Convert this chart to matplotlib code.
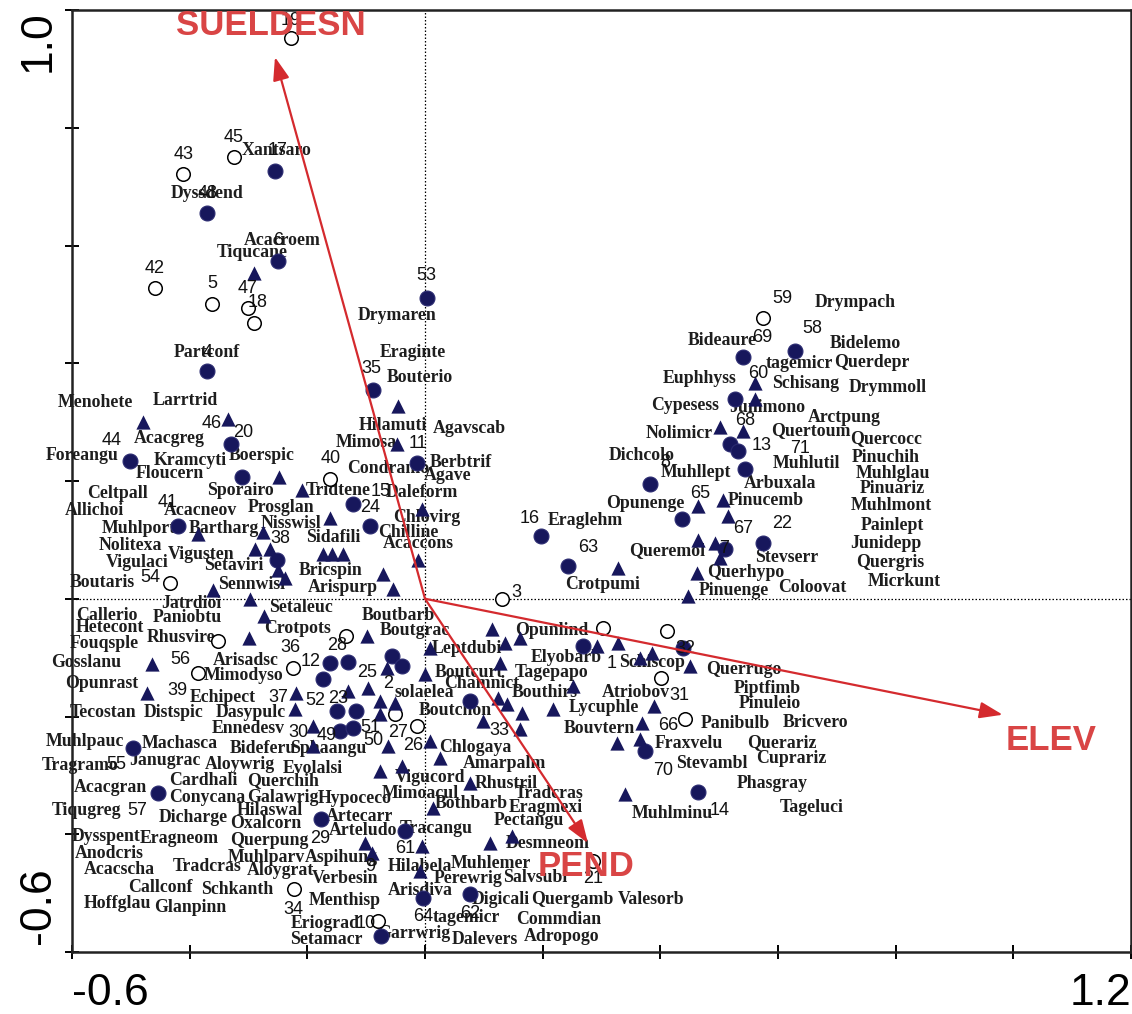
import matplotlib
matplotlib.use("Agg")
import matplotlib.pyplot as plt

# --- site scores by group ---------------------------------------------
open_x = [-0.228, -0.411, -0.325, -0.459, -0.362, -0.301, -0.291, -0.161, -0.433, -0.352,
          -0.134, -0.224, -0.386, -0.223, -0.080, 0.285, 0.131, 0.302, 0.411, 0.401,
          0.442, -0.051, -0.014, 0.574]
open_y = [0.952, 0.722, 0.751, 0.527, 0.501, 0.493, 0.469, 0.204, 0.027, -0.071,
          -0.063, -0.117, -0.126, -0.493, -0.547, -0.445, 0.000, -0.049, -0.054, -0.134,
          -0.204, -0.195, -0.216, 0.477]

filled_x = [-0.255, -0.370, -0.250, -0.370, 0.003, -0.088, -0.330, -0.501, -0.311, -0.014,
            -0.122, -0.420, -0.093, -0.251, -0.161, -0.131, -0.173, -0.150, -0.117, -0.144,
            -0.122, -0.496, -0.454, -0.177, -0.034, -0.003, 0.076, -0.056, -0.039, 0.076,
            0.268, 0.438, 0.374, 0.464, 0.197, 0.243, 0.437, 0.510, 0.574, 0.382,
            0.544, 0.518, 0.532, 0.527, 0.540, 0.629, -0.075]
filled_y = [0.727, 0.656, 0.574, 0.386, 0.511, 0.355, 0.262, 0.234, 0.206, 0.231,
            0.161, 0.124, 0.124, 0.065, -0.109, -0.107, -0.136, -0.190, -0.190, -0.224,
            -0.219, -0.253, -0.330, -0.374, -0.394, -0.508, -0.501, -0.097, -0.114, -0.173,
            -0.080, -0.083, -0.258, -0.328, 0.107, 0.056, 0.136, 0.085, 0.095, 0.195,
            0.221, 0.263, 0.251, 0.340, 0.410, 0.421, -0.573]

tri_x = [-0.291, -0.479, -0.335, -0.248, -0.209, -0.046, -0.048, -0.005, -0.386, -0.275,
         -0.161, -0.289, -0.263, -0.173, -0.158, -0.139, -0.250, -0.238, -0.360, -0.297,
         -0.274, -0.299, -0.099, -0.464, -0.472, -0.219, -0.131, -0.097, -0.221, -0.190,
         -0.190, -0.012, -0.071, -0.054, 0.114, 0.136, 0.161, 0.292, 0.328, 0.365,
         0.386, 0.450, 0.008, 0.127, -0.065, 0.000, 0.251, -0.076, -0.051, -0.076,
         0.099, 0.124, 0.139, 0.165, 0.218, 0.389, 0.161, 0.369, 0.008, 0.025,
         -0.063, 0.326, 0.365, -0.076, -0.039, 0.076, 0.014, 0.340, -0.005, 0.110,
         0.148, -0.008, -0.102, -0.090, 0.328, 0.447, 0.462, 0.464, 0.493, 0.501,
         0.515, 0.464, 0.506, 0.501, 0.540, 0.561, 0.561]
tri_y = [0.554, 0.301, 0.306, 0.206, 0.184, 0.328, 0.263, 0.153, 0.110, 0.114,
         0.138, 0.085, 0.085, 0.076, 0.076, 0.076, 0.048, 0.036, 0.015, 0.000,
         -0.029, -0.066, -0.063, -0.110, -0.160, -0.160, -0.156, -0.151, -0.187, -0.216,
         -0.250, 0.065, 0.042, 0.017, -0.051, -0.075, -0.066, -0.080, -0.076, -0.100,
         -0.092, -0.114, -0.083, -0.109, -0.117, -0.127, -0.148, -0.173, -0.177, -0.195,
         -0.207, -0.168, -0.178, -0.194, -0.187, -0.182, -0.221, -0.211, -0.241, -0.270,
         -0.250, -0.245, -0.238, -0.292, -0.284, -0.313, -0.355, -0.331, -0.420, -0.415,
         -0.403, -0.462, -0.415, -0.432, 0.053, 0.005, 0.044, 0.099, 0.095, 0.070,
         0.141, 0.158, 0.167, 0.291, 0.285, 0.340, 0.367]

# --- site numbers -------------------------------------------------------
site_ids = ["19", "43", "45", "17", "48", "6", "42", "5", "47", "18",
            "4", "53", "35", "46", "20", "44", "40", "11", "15", "41",
            "24", "38", "54", "16", "63", "3", "67", "22", "65", "8",
            "13", "71", "68", "60", "69", "59", "58", "36", "28", "56",
            "12", "25", "2", "39", "37", "52", "23", "30", "49", "51",
            "50", "27", "26", "33", "1", "32", "31", "66", "70", "14",
            "55", "57", "29", "9", "61", "34", "10", "21", "64", "62", "7"]
site_x = [-0.228, -0.411, -0.326, -0.250, -0.370, -0.250, -0.459, -0.362, -0.301, -0.285,
          -0.370, 0.003, -0.092, -0.362, -0.309, -0.532, -0.161, -0.012, -0.076, -0.438,
          -0.093, -0.246, -0.467, 0.178, 0.277, 0.156, 0.540, 0.607, 0.467, 0.408,
          0.573, 0.637, 0.545, 0.566, 0.574, 0.607, 0.659, -0.229, -0.150, -0.416,
          -0.195, -0.099, -0.063, -0.420, -0.250, -0.187, -0.148, -0.216, -0.167, -0.093,
          -0.088, -0.046, -0.020, 0.127, 0.318, 0.442, 0.432, 0.413, 0.404, 0.501,
          -0.525, -0.489, -0.178, -0.093, -0.034, -0.223, -0.100, 0.285, -0.003, 0.076, 0.508]
site_y = [0.982, 0.754, 0.783, 0.761, 0.688, 0.608, 0.561, 0.535, 0.527, 0.503,
          0.418, 0.549, 0.391, 0.297, 0.282, 0.268, 0.238, 0.263, 0.182, 0.163,
          0.155, 0.102, 0.036, 0.136, 0.087, 0.010, 0.119, 0.127, 0.178, 0.231,
          0.260, 0.255, 0.302, 0.382, 0.443, 0.510, 0.459, -0.083, -0.080, -0.104,
          -0.107, -0.126, -0.144, -0.156, -0.168, -0.173, -0.170, -0.228, -0.233, -0.219,
          -0.241, -0.228, -0.250, -0.224, -0.110, -0.085, -0.165, -0.216, -0.292, -0.360,
          -0.282, -0.360, -0.408, -0.454, -0.425, -0.527, -0.551, -0.476, -0.539, -0.534, 0.085]

# --- species scores -----------------------------------------------------
species = ["Xantsaro", "Dyssdend", "Acacroem", "Tiqucane", "Partconf", "Menohete", "Larrtrid",
           "Acacgreg", "Foreangu", "Kramcyti", "Boerspic", "Floucern", "Sporairo", "Tridtene",
           "Daleform", "Celtpall", "Allichoi", "Acacneov", "Prosglan", "Muhlport", "Bartharg",
           "Nisswisl", "Sidafili", "Nolitexa", "Vigusten", "Vigulaci", "Setaviri", "Bricspin",
           "Boutaris", "Sennwisl", "Arispurp", "Jatrdioi", "Setaleuc", "Callerio", "Paniobtu",
           "Hetecont", "Rhusvire", "Crotpots", "Fouqsple", "Gosslanu", "Arisadsc", "Mimodyso",
           "Opunrast", "Echipect", "Tecostan", "Distspic", "Dasypulc", "Ennedesv", "Muhlpauc",
           "Machasca", "Bideferu", "Sphaangu", "Tragramo", "Janugrac", "Aloywrig", "Evolalsi",
           "Acacgran", "Cardhali", "Querchih", "Conycana", "Galawrig", "Hypoceco", "Tiqugreg",
           "Dicharge", "Hilaswal", "Oxalcorn", "Artecarr", "Arteludo", "Tracangu", "Dysspent",
           "Eragneom", "Querpung", "Anodcris", "Muhlparv", "Aspihung", "Acacscha", "Tradcras",
           "Aloygrat", "Verbesin", "Callconf", "Schkanth", "Hoffglau", "Glanpinn", "Menthisp",
           "Eriograd", "Setamacr", "Amarpalm", "Stevambl", "Vigucord", "Rhustril", "Mimoacul",
           "Bothbarb", "Tradcras", "Eragmexi", "Pectangu", "Muhlminu", "Desmneom", "Hilabela",
           "Muhlemer", "Perewrig", "Salvsubi", "Arisdiva", "Digicali", "Quergamb", "Valesorb",
           "tagemicr", "Commdian", "Garrwrig", "Dalevers", "Adropogo", "Chlovirg", "Chilline",
           "Acaccons", "Eraglehm", "Queremol", "Crotpumi", "Querhypo", "Pinuenge", "Stevserr",
           "Coloovat", "Painlept", "Junidepp", "Quergris", "Micrkunt", "Boutbarb", "Boutgrac",
           "Opunlind", "Leptdubi", "Elyobarb", "Schiscop", "Querrugo", "Boutcurt", "Tagepapo",
           "solaelea", "Chamnict", "Bouthirs", "Atriobov", "Piptfimb", "Pinuleio", "Boutchon",
           "Lycuphle", "Panibulb", "Bouvtern", "Chlogaya", "Fraxvelu", "Querariz", "Bricvero",
           "Cuprariz", "Phasgray", "Tageluci", "Drymaren", "Eraginte", "Bouterio", "Hilamuti",
           "Agavscab", "Mimosa", "Condramo", "Berbtrif", "Agave", "Bideaure", "Drympach",
           "Bidelemo", "tagemicr", "Querdepr", "Schisang", "Drymmoll", "Euphhyss", "Cypesess",
           "Junimono", "Arctpung", "Nolimicr", "Quertoum", "Quercocc", "Muhlutil", "Pinuchih",
           "Muhlglau", "Dichcolo", "Muhllept", "Arbuxala", "Pinuariz", "Pinucemb", "Muhlmont",
           "Opunenge"]
species_x = [-0.253, -0.370, -0.243, -0.294, -0.370, -0.561, -0.408,
             -0.435, -0.583, -0.399, -0.277, -0.433, -0.314, -0.148,
             -0.005, -0.523, -0.561, -0.382, -0.245, -0.486, -0.342,
             -0.228, -0.156, -0.501, -0.381, -0.489, -0.325, -0.161,
             -0.549, -0.294, -0.139, -0.398, -0.211, -0.540, -0.404,
             -0.535, -0.415, -0.216, -0.545, -0.576, -0.304, -0.309,
             -0.549, -0.343, -0.547, -0.428, -0.296, -0.301, -0.578,
             -0.416, -0.275, -0.165, -0.586, -0.442, -0.314, -0.190,
             -0.535, -0.376, -0.241, -0.370, -0.241, -0.119, -0.576,
             -0.393, -0.263, -0.270, -0.112, -0.105, 0.019, -0.542,
             -0.418, -0.265, -0.537, -0.270, -0.143, -0.520, -0.370,
             -0.245, -0.136, -0.450, -0.319, -0.523, -0.399, -0.136,
             -0.170, -0.167, 0.136, 0.488, 0.008, 0.139, -0.008,
             0.078, 0.211, 0.206, 0.177, 0.421, 0.209, -0.008,
             0.112, 0.073, 0.187, -0.008, 0.129, 0.251, 0.384,
             0.070, 0.228, -0.019, 0.102, 0.233, 0.003, -0.029,
             -0.012, 0.272, 0.411, 0.301, 0.545, 0.525, 0.615,
             0.658, 0.794, 0.783, 0.790, 0.814, -0.046, -0.017,
             0.216, 0.071, 0.240, 0.386, 0.542, 0.075, 0.216,
             -0.002, 0.097, 0.204, 0.359, 0.581, 0.586, 0.051,
             0.304, 0.527, 0.297, 0.085, 0.449, 0.607, 0.664,
             0.622, 0.590, 0.658, -0.048, -0.020, -0.008, -0.054,
             0.076, -0.100, -0.063, 0.061, 0.039, 0.505, 0.732,
             0.749, 0.637, 0.760, 0.647, 0.787, 0.466, 0.442,
             0.581, 0.712, 0.432, 0.656, 0.783, 0.649, 0.783,
             0.795, 0.369, 0.460, 0.603, 0.794, 0.579, 0.792,
             0.374]
species_y = [0.761, 0.688, 0.608, 0.588, 0.418, 0.333, 0.336,
             0.272, 0.243, 0.234, 0.243, 0.212, 0.184, 0.184,
             0.180, 0.178, 0.150, 0.150, 0.155, 0.119, 0.119,
             0.127, 0.104, 0.090, 0.076, 0.061, 0.056, 0.048,
             0.027, 0.025, 0.019, -0.008, -0.015, -0.029, -0.031,
             -0.049, -0.066, -0.051, -0.076, -0.109, -0.105, -0.131,
             -0.144, -0.168, -0.194, -0.194, -0.194, -0.221, -0.243,
             -0.246, -0.255, -0.255, -0.284, -0.275, -0.282, -0.289,
             -0.321, -0.309, -0.309, -0.338, -0.338, -0.340, -0.360,
             -0.372, -0.360, -0.381, -0.370, -0.393, -0.391, -0.403,
             -0.408, -0.411, -0.432, -0.440, -0.440, -0.460, -0.454,
             -0.462, -0.476, -0.491, -0.493, -0.517, -0.525, -0.513,
             -0.551, -0.578, -0.280, -0.280, -0.304, -0.313, -0.330,
             -0.347, -0.331, -0.355, -0.377, -0.365, -0.415, -0.454,
             -0.449, -0.476, -0.474, -0.496, -0.510, -0.511, -0.511,
             -0.542, -0.544, -0.569, -0.578, -0.573, 0.138, 0.112,
             0.093, 0.133, 0.082, 0.025, 0.044, 0.014, 0.070,
             0.019, 0.124, 0.093, 0.061, 0.029, -0.029, -0.054,
             -0.054, -0.085, -0.100, -0.109, -0.121, -0.126, -0.126,
             -0.160, -0.144, -0.160, -0.160, -0.153, -0.178, -0.189,
             -0.185, -0.212, -0.221, -0.253, -0.246, -0.245, -0.211,
             -0.272, -0.313, -0.355, 0.481, 0.418, 0.376, 0.294,
             0.289, 0.265, 0.221, 0.231, 0.209, 0.438, 0.503,
             0.433, 0.399, 0.401, 0.365, 0.359, 0.374, 0.328,
             0.325, 0.308, 0.280, 0.285, 0.272, 0.229, 0.240,
             0.212, 0.243, 0.214, 0.195, 0.187, 0.167, 0.158,
             0.161]

# --- environmental variables (biplot arrows) ---------------------------
env_names = ["SUELDESN", "ELEV", "PEND"]
env_x = [-0.255, 0.982, 0.277]
env_y = [0.920, -0.197, -0.415]
env_label_x = [-0.262, 1.064, 0.273]
env_label_y = [0.974, -0.241, -0.454]

x_min, x_max = -0.6, 1.2
y_min, y_max = -0.6, 1.0
tick_step = 0.2

NAVY = "#17175c"
RED = "#d42a2e"
RED_TEXT = "#d94545"

W, H = 1132, 1014
fig = plt.figure(figsize=(W / 100, H / 100), dpi=100)
ax = fig.add_axes([72 / W, 62 / H, 1059 / W, 942 / H])
ax.set_xlim(x_min, x_max)
ax.set_ylim(y_min, y_max)

# zero reference lines
ax.axvline(0, color="black", lw=0.9, ls=(0, (1.2, 1.6)), zorder=1)
ax.axhline(0, color="black", lw=0.9, ls=(0, (1.2, 1.6)), zorder=1)

# species names (markers and site numbers are drawn over them)
for name, sx, sy in zip(species, species_x, species_y):
    ax.text(sx, sy, name, family="Liberation Serif", weight="bold", fontsize=12.8,
            color="#1e1e1e", ha="center", va="center", zorder=3)

# site markers
ax.scatter(open_x, open_y, s=95, facecolors="white", edgecolors="black",
           linewidths=1.1, zorder=4)
ax.scatter(filled_x, filled_y, s=115, color=NAVY, edgecolors="#2a2a70",
           linewidths=0.8, zorder=4)
ax.scatter(tri_x, tri_y, s=105, marker="^", color=NAVY, linewidths=0, zorder=4)

# site numbers
for sid, lx, ly in zip(site_ids, site_x, site_y):
    ax.text(lx, ly, sid, family="Liberation Sans", fontsize=13,
            color="#111111", ha="center", va="center", zorder=5)

# biplot arrows for the environmental variables
for name, ex, ey, lx, ly in zip(env_names, env_x, env_y, env_label_x, env_label_y):
    ax.annotate("", xy=(ex, ey), xytext=(0, 0),
                arrowprops=dict(arrowstyle="-|>,head_length=0.7,head_width=0.25",
                                color=RED, lw=1.6, mutation_scale=20,
                                shrinkA=0, shrinkB=0),
                zorder=6)
    ax.text(lx, ly, name, family="Liberation Sans", weight="bold", fontsize=25,
            color=RED_TEXT, ha="center", va="center", zorder=6)

# axes frame and ticks
ticks_x = [round(x_min + i * tick_step, 1) for i in range(10)]
ticks_y = [round(y_min + i * tick_step, 1) for i in range(9)]
ax.set_xticks(ticks_x)
ax.set_yticks(ticks_y)
ax.set_xticklabels([])
ax.set_yticklabels([])
ax.tick_params(direction="inout", length=10, width=1.4, color="black")
for sp in ax.spines.values():
    sp.set_linewidth(1.8)
    sp.set_color("#222222")

# axis end labels
lab_kw = dict(family="Liberation Sans", fontsize=32, color="black")
ax.text(x_min, -0.056, f"{x_min:.1f}", transform=ax.get_xaxis_transform(),
        ha="left", va="baseline", **lab_kw)
ax.text(x_max, -0.056, f"{x_max:.1f}", transform=ax.get_xaxis_transform(),
        ha="right", va="baseline", **lab_kw)
fig.text(50 / W, 1 - 10 / H, f"{y_max:.1f}", rotation=90, rotation_mode="anchor",
         ha="right", va="baseline", **lab_kw)
fig.text(50 / W, 1 - 944 / H, f"{y_min:.1f}", rotation=90, rotation_mode="anchor",
         ha="left", va="baseline", **lab_kw)

fig.savefig("out.png", dpi=100)
